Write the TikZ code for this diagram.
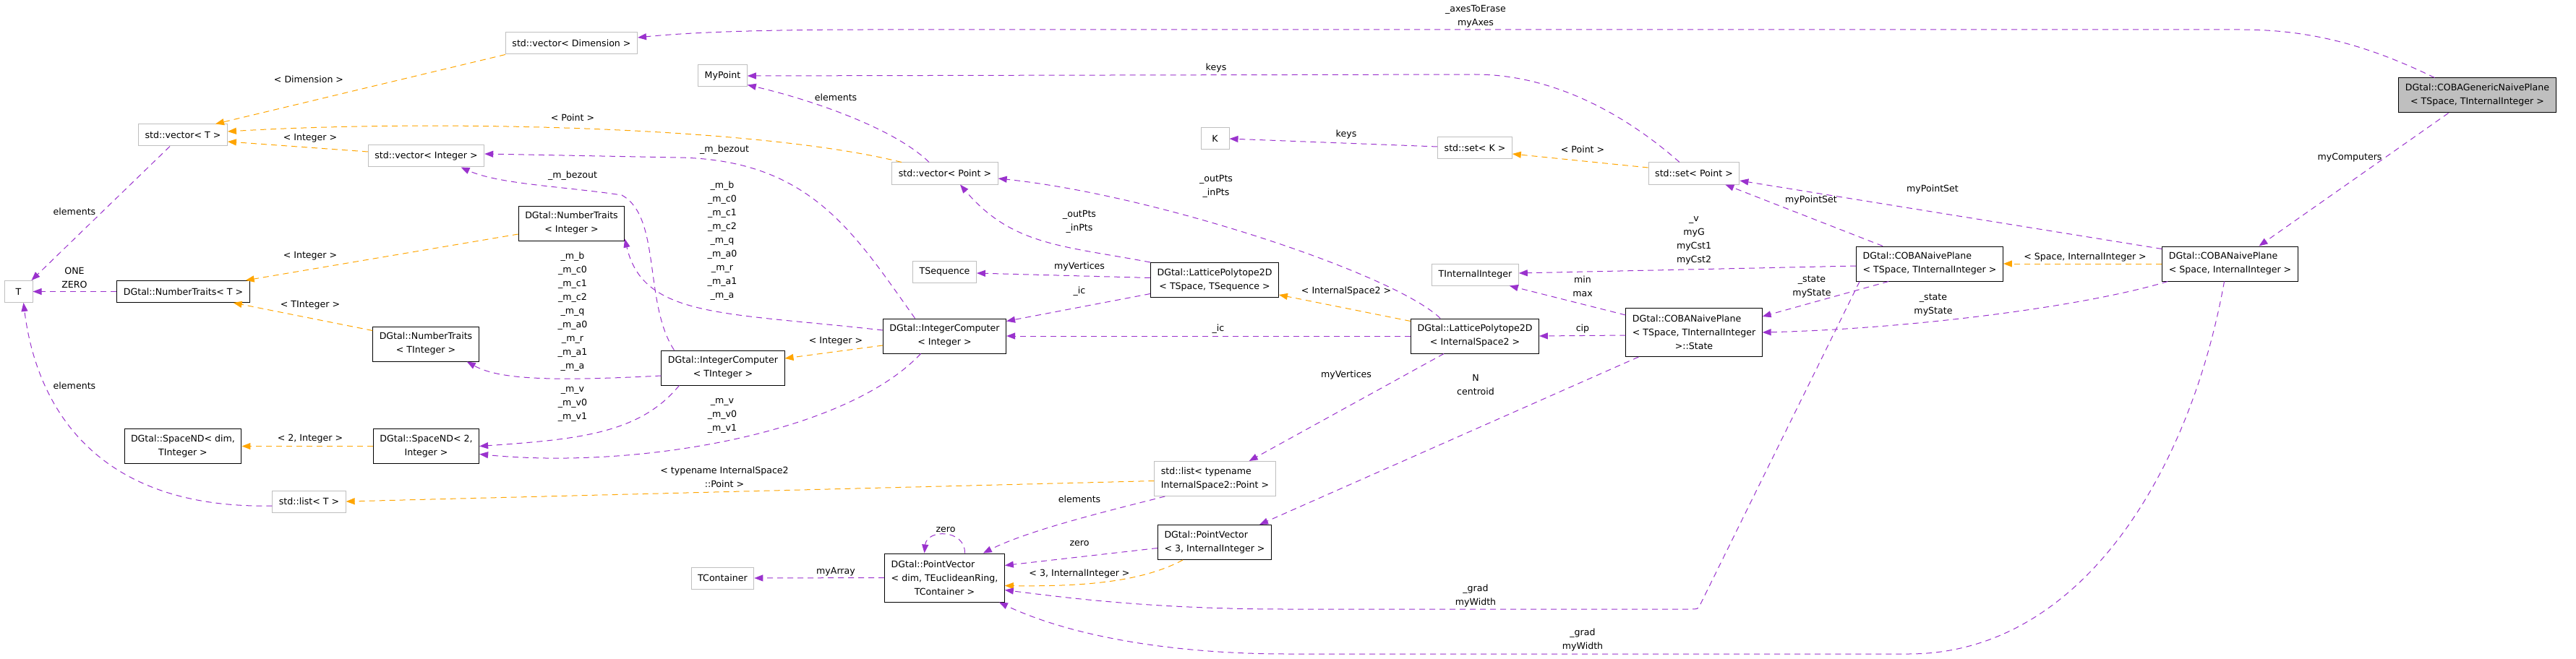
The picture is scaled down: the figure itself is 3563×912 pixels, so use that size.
\documentclass[tikz,border=0pt]{standalone}
\usepackage{fontspec}
\setmainfont{DejaVu Sans}
\usetikzlibrary{arrows.meta}
\definecolor{purp}{HTML}{9A32CD}
\definecolor{orng}{HTML}{FFA500}
\definecolor{gborder}{HTML}{BFBFBF}
\begin{document}
\begin{tikzpicture}[x=1pt,y=-1pt,
    every node/.style={font=\fontsize{12.6}{19}\selectfont},
    cls/.style={draw=black,fill=white,line width=1pt,inner xsep=9pt,inner ysep=4pt,
      minimum width=39pt,minimum height=30pt,align=center},
    ext/.style={cls,draw=gborder},
    two/.style={minimum height=48pt},
    three/.style={minimum height=67pt},
    lbl/.style={inner sep=0pt,align=center},
    mem/.style={draw=purp,line width=1pt,dash pattern=on 8pt off 6pt,
      -{Triangle[length=12pt,width=9pt]}},
    tpl/.style={mem,draw=orng}]
\useasboundingbox (0,0) rectangle (3563,912);
% classes
\node[cls,two,fill=gborder] (cobaG) at (3426.5,132) {DGtal::COBAGenericNaivePlane\\< TSpace, TInternalInteger >};
\node[cls,two,align=left] (cobaS) at (3084.5,365) {DGtal::COBANaivePlane\\< Space, InternalInteger >};
\node[cls,two,align=left] (cobaT) at (2669,365) {DGtal::COBANaivePlane\\< TSpace, TInternalInteger >};
\node[cls,three,align=left] (state) at (2343,460) {DGtal::COBANaivePlane\\< TSpace, TInternalInteger\\\hfil >::State};
\node[ext] (tII) at (2040.5,380) {TInternalInteger};
\node[ext] (setP) at (2343,240) {std::set< Point >};
\node[ext] (setK) at (2040,205) {std::set< K >};
\node[ext] (K) at (1680.5,192) {K};
\node[cls,two] (lpI) at (2040,465) {DGtal::LatticePolytope2D\\< InternalSpace2 >};
\node[cls,two] (lpT) at (1680,387.5) {DGtal::LatticePolytope2D\\< TSpace, TSequence >};
\node[ext,two,align=left] (listI) at (1680.5,662.5) {std::list< typename\\InternalSpace2::Point >};
\node[cls,two,align=left] (pv3) at (1680,750.5) {DGtal::PointVector\\< 3, InternalInteger >};
\node[cls,three,align=left] (pvD) at (1306.5,799.5) {DGtal::PointVector\\< dim, TEuclideanRing,\\\hfil TContainer >};
\node[ext] (tCont) at (999.5,800) {TContainer};
\node[ext] (tSeq) at (1306.5,376) {TSequence};
\node[ext] (vecP) at (1307,240) {std::vector< Point >};
\node[ext] (myPt) at (999.5,105) {MyPoint};
\node[cls,two] (icI) at (1306.5,465) {DGtal::IntegerComputer\\< Integer >};
\node[cls,two] (icT) at (1000,509) {DGtal::IntegerComputer\\< TInteger >};
\node[ext] (vecDim) at (790.5,60) {std::vector< Dimension >};
\node[ext] (vecT) at (253,187) {std::vector< T >};
\node[ext] (vecInt) at (589.5,216) {std::vector< Integer >};
\node[cls,two] (ntI) at (790.5,309) {DGtal::NumberTraits\\< Integer >};
\node[ext] (T) at (25.5,403.5) {T};
\node[cls] (ntT) at (253.5,403.5) {DGtal::NumberTraits< T >};
\node[cls,two] (ntTI) at (589,476) {DGtal::NumberTraits\\< TInteger >};
\node[cls,two] (spD) at (253,617.5) {DGtal::SpaceND< dim,\\TInteger >};
\node[cls,two] (sp2) at (589.5,617.5) {DGtal::SpaceND< 2,\\Integer >};
\node[ext] (listT) at (427.5,694) {std::list< T >};
% template instances
\draw[tpl] (vecDim.south west) -- ([xshift=45pt]vecT.north);
\draw[tpl] ([xshift=-60pt]vecP.north) .. controls (1050,175) and (600,165) .. ([yshift=5pt]vecT.east);
\draw[tpl] ([yshift=6pt]vecInt.west) -- ([yshift=-9pt]vecT.east);
\draw[tpl] ([yshift=-15pt]ntI.west) -- ([xshift=-6pt]ntT.north east);
\draw[tpl] ([yshift=-6pt]ntTI.north west) -- ([xshift=-23pt]ntT.south east);
\draw[tpl] (sp2.west) -- (spD.east);
\draw[tpl] ([yshift=-3pt]listI.west) -- (listT.east);
\draw[tpl] ([yshift=-13pt]icI.west) -- ([yshift=13pt]icT.east);
\draw[tpl] ([yshift=-4pt]lpI.north west) -- ([yshift=4pt]lpT.south east);
\draw[tpl] ([yshift=8pt]setP.west) -- ([yshift=-8pt]setK.east);
\draw[tpl] (cobaS.west) -- (cobaT.east);
\draw[tpl] ([xshift=35pt]pv3.south west) .. controls (1580,805) and (1500,812) .. ([yshift=-11pt]pvD.east);
% members
\draw[mem] ([xshift=50pt]cobaG.north west) .. controls (3280,65) and (3200,41) .. (3100,41) -- (1200,41) .. controls (1050,41) and (950,45) .. ([yshift=8pt]vecDim.east);
\draw[mem] ([xshift=-40pt]cobaG.south) -- ([xshift=40pt]cobaS.north);
\draw[mem] ([yshift=-4pt]cobaS.north west) -- ([yshift=-10pt]setP.east);
\draw[mem] ([xshift=8pt]cobaS.south west) .. controls (2880,425) and (2640,455) .. (state.east);
\draw[mem] ([xshift=-8pt]cobaS.south) .. controls (3030,650) and (2880,905) .. (2640,905) -- (1780,905) .. controls (1620,905) and (1480,880) .. ([xshift=-8pt]pvD.south east);
\draw[mem] ([yshift=-3pt]cobaT.west) -- ([yshift=2pt]tII.east);
\draw[mem] ([xshift=37pt]cobaT.north west) -- ([xshift=-20pt]setP.south east);
\draw[mem] ([xshift=45pt]cobaT.south west) -- ([yshift=22pt]state.east);
\draw[mem] ([xshift=5pt]cobaT.south west) -- (2351,838) .. controls (2348,843) .. (2338,843) -- (1780,843) .. controls (1600,843) and (1480,828) .. ([yshift=-17pt]pvD.east);
\draw[mem] ([yshift=-10pt]state.north west) -- ([xshift=-13pt]tII.south east);
\draw[mem] ([yshift=-4pt]state.west) -- (lpI.east);
\draw[mem] ([xshift=18pt]state.south west) -- ([xshift=-17pt]pv3.north east);
\draw[mem] (lpI.west) -- (icI.east);
\draw[mem] ([xshift=46pt]lpI.south west) -- ([xshift=-37pt]listI.north east);
\draw[mem] ([xshift=41pt]lpI.north west) .. controls (1930,380) and (1600,270) .. ([yshift=-7pt]vecP.east);
\draw[mem] ([yshift=3pt]lpT.west) -- ([yshift=-2pt]tSeq.east);
\draw[mem] ([yshift=-19pt]lpT.west) -- ([yshift=-4pt]icI.north east);
\draw[mem] (lpT.north west) .. controls (1470,340) and (1400,340) .. ([xshift=21pt]vecP.south);
\draw[mem] ([xshift=-22pt]vecP.north) .. controls (1240,180) and (1130,140) .. ([yshift=3pt]myPt.south east);
\draw[mem] ([xshift=-20pt]setP.north) .. controls (2250,160) and (2150,103) .. (2040,103) -- (myPt.east);
\draw[mem] ([yshift=2pt]setK.west) -- (K.east);
\draw[mem] ([xshift=-41pt]icI.north) .. controls (1180,320) and (1120,222) .. (940,218) -- ([yshift=3pt]vecInt.east);
\draw[mem] ([yshift=8pt]icI.west) .. controls (1000,432) and (890,440) .. ([yshift=3pt]ntI.south east);
\draw[mem] ([xshift=-33pt]icI.south) .. controls (1170,600) and (880,650) .. ([yshift=-11pt]sp2.east);
\draw[mem] ([xshift=18pt]icT.north west) .. controls (890,420) and (915,300) .. (860,270) .. controls (780,258) and (690,255) .. ([xshift=48pt]vecInt.south);
\draw[mem] ([yshift=-11pt]icT.west) .. controls (760,528) and (690,525) .. ([xshift=-17pt]ntTI.south east);
\draw[mem] ([xshift=25pt]icT.south west) .. controls (885,600) and (800,608) .. (sp2.east);
\draw[mem] ([xshift=-18pt]vecT.south) -- ([xshift=-2pt]T.north east);
\draw[mem] (ntT.west) -- (T.east);
\draw[mem] ([yshift=-6pt]listT.west) .. controls (130,705) and (50,560) .. ([xshift=7pt]T.south);
\draw[mem] ([xshift=15pt]listI.south west) .. controls (1520,710) and (1420,735) .. ([xshift=-30pt]pvD.north east);
\draw[mem] ([yshift=-8pt]pv3.west) -- ([yshift=17pt]pvD.east);
\draw[mem] ([xshift=28pt]pvD.north) .. controls (1335,732) and (1282,732) .. ([xshift=-28pt]pvD.north);
\draw[mem] (pvD.west) -- (tCont.east);
% edge labels
\node[lbl] (lAxes) at (2041,22.5) {\_axesToErase\\myAxes};
\node[lbl] (lComp) at (3250,218) {myComputers};
\node[lbl] (lPS1) at (2673,262) {myPointSet};
\node[lbl] (lSt1) at (2674,421.5) {\_state\\myState};
\node[lbl] (lGr1) at (2189,886) {\_grad\\myWidth};
\node[lbl] (lSpII) at (2884,356) {< Space, InternalInteger >};
\node[lbl] (lVG) at (2343,333) {\_v\\myG\\myCst1\\myCst2};
\node[lbl] (lPS2) at (2505,277) {myPointSet};
\node[lbl] (lSt2) at (2506,396.5) {\_state\\myState};
\node[lbl] (lGr2) at (2041,825) {\_grad\\myWidth};
\node[lbl] (lMin) at (2189,396.5) {min\\max};
\node[lbl] (lCip) at (2189,455) {cip};
\node[lbl] (lN) at (2041,532.5) {N\\centroid};
\node[lbl] (lIS2) at (1862,403) {< InternalSpace2 >};
\node[lbl] (lIc1) at (1685,455) {\_ic};
\node[lbl] (lVt1) at (1862,519) {myVertices};
\node[lbl] (lOut1) at (1682,257.5) {\_outPts\\\_inPts};
\node[lbl] (lPtK) at (2189,207) {< Point >};
\node[lbl] (lKey1) at (1862,186) {keys};
\node[lbl] (lKey2) at (1682,94) {keys};
\node[lbl] (lVt2) at (1493,369) {myVertices};
\node[lbl] (lIc2) at (1493,403) {\_ic};
\node[lbl] (lOut2) at (1493,306.5) {\_outPts\\\_inPts};
\node[lbl] (lEl1) at (1156,135) {elements};
\node[lbl] (lPtT) at (792,163) {< Point >};
\node[lbl] (lDim) at (427,110) {< Dimension >};
\node[lbl] (lIntT) at (429,191) {< Integer >};
\node[lbl] (lBz1) at (1002,207) {\_m\_bezout};
\node[lbl] (lMb1) at (999,333) {\_m\_b\\\_m\_c0\\\_m\_c1\\\_m\_c2\\\_m\_q\\\_m\_a0\\\_m\_r\\\_m\_a1\\\_m\_a};
\node[lbl] (lMv1) at (999,575) {\_m\_v\\\_m\_v0\\\_m\_v1};
\node[lbl] (lIntIC) at (1156,472) {< Integer >};
\node[lbl] (lBz2) at (792,243) {\_m\_bezout};
\node[lbl] (lMb2) at (792,431.5) {\_m\_b\\\_m\_c0\\\_m\_c1\\\_m\_c2\\\_m\_q\\\_m\_a0\\\_m\_r\\\_m\_a1\\\_m\_a};
\node[lbl] (lMv2) at (792,559) {\_m\_v\\\_m\_v0\\\_m\_v1};
\node[lbl] (lElT) at (103,293) {elements};
\node[lbl] (lOne) at (103,384.5) {ONE\\ZERO};
\node[lbl] (lIntNT) at (429,354) {< Integer >};
\node[lbl] (lTInt) at (429,422) {< TInteger >};
\node[lbl] (l2Int) at (429,607) {< 2, Integer >};
\node[lbl] (lElL) at (103,534) {elements};
\node[lbl] (lTyp) at (1002,660) {< typename InternalSpace2\\::Point >};
\node[lbl] (lEl2) at (1493,691) {elements};
\node[lbl] (lZ1) at (1308,733) {zero};
\node[lbl] (lZ2) at (1493,752) {zero};
\node[lbl] (l3II) at (1493,794) {< 3, InternalInteger >};
\node[lbl] (lArr) at (1156,791) {myArray};
\end{tikzpicture}
\end{document}
